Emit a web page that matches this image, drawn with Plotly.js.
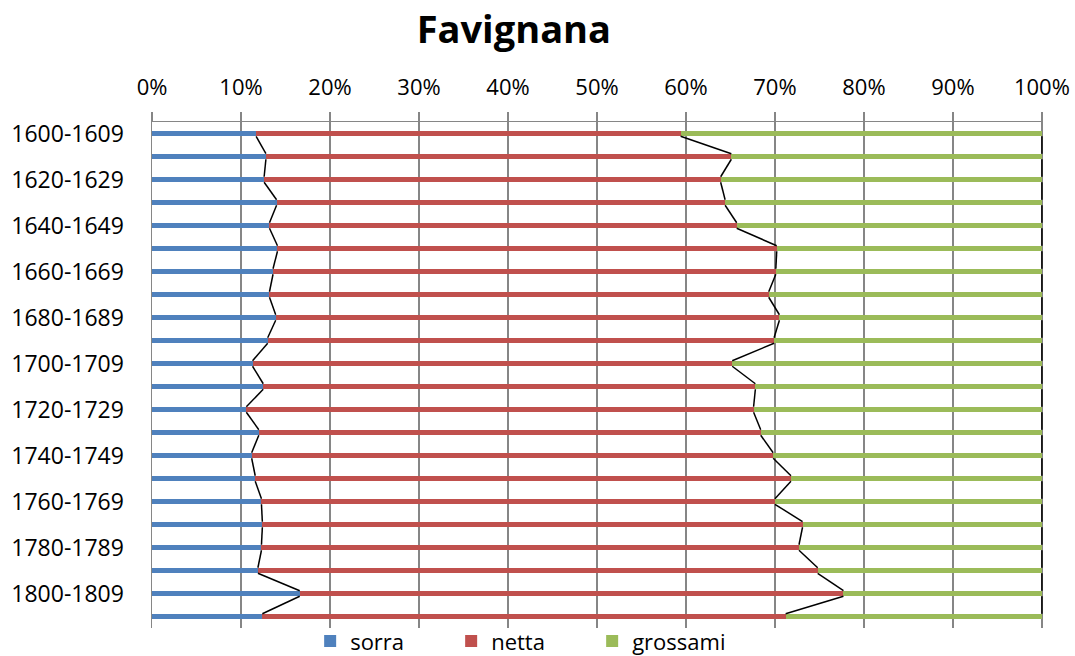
<!DOCTYPE html>
<html>
<head>
<meta charset="utf-8">
<script src="https://cdn.plot.ly/plotly-3.0.1.min.js"></script>
<style>html,body{margin:0;padding:0;background:#fff;}#chart{width:1075px;height:656px;}</style>
</head>
<body>
<div id="chart"></div>
<script>
var categories = ["1600-1609","1610-1619","1620-1629","1630-1639","1640-1649","1650-1659",
  "1660-1669","1670-1679","1680-1689","1690-1699","1700-1709","1710-1719","1720-1729",
  "1730-1739","1740-1749","1750-1759","1760-1769","1770-1779","1780-1789","1790-1799",
  "1800-1809","1810-1819"];
var sorra    = [11.7,12.8,12.6,14.0,13.2,14.1,13.6,13.2,13.9,13.0,11.3,12.5,10.6,12.0,11.2,11.6,12.3,12.4,12.3,11.9,16.6,12.4];
var netta    = [47.7,52.3,51.3,50.4,52.5,56.1,56.5,56.1,56.6,56.9,53.9,55.3,57.0,56.4,58.6,60.2,57.7,60.7,60.4,62.9,61.1,58.8];
var grossami = [40.6,34.9,36.1,35.6,34.3,29.8,29.9,30.7,29.5,30.1,34.8,32.2,32.4,31.6,30.2,28.2,30.0,26.9,27.3,25.2,22.3,28.8];
var seriesNames = ["sorra","netta","grossami"];
var seriesColors = ["#4F81BD","#C0504D","#9BBB59"];
var xTickVals = [0,10,20,30,40,50,60,70,80,90,100];
var xTickText = ["0%","10%","20%","30%","40%","50%","60%","70%","80%","90%","100%"];

var idx = categories.map(function(c,i){return i;});
var series = [sorra, netta, grossami];
var FONT = "Open Sans, DejaVu Sans, sans-serif";
var barWidth = 0.24;

var traces = [];
series.forEach(function(vals, s){
  traces.push({
    type: "bar", orientation: "h", name: seriesNames[s],
    x: vals, y: idx, width: barWidth,
    marker: {color: seriesColors[s], line: {width: 0}},
    hoverinfo: "x+name"
  });
});

// series lines connecting segment ends of adjacent bars
var cum = [];
var run = idx.map(function(){return 0;});
series.forEach(function(vals){
  run = run.map(function(r,i){return r + vals[i];});
  cum.push(run.slice());
});
cum.forEach(function(c){
  var lx = [], ly = [];
  for (var i = 0; i < idx.length - 1; i++) {
    lx.push(c[i], c[i+1], null);
    ly.push(idx[i] + barWidth/2, idx[i+1] - barWidth/2, null);
  }
  traces.push({
    type: "scatter", mode: "lines", x: lx, y: ly,
    line: {color: "#000000", width: 1.5},
    showlegend: false, hoverinfo: "skip", connectgaps: false
  });
});

var evenIdx = idx.filter(function(i){return i % 2 === 0;});
var layout = {
  width: 1075, height: 656,
  paper_bgcolor: "#ffffff", plot_bgcolor: "#ffffff",
  barmode: "stack",
  margin: {l: 152, r: 32, t: 122, b: 28, autoexpand: false},
  font: {family: FONT, size: 22, color: "#000000"},
  title: {text: "<b>Favignana</b>", font: {family: FONT, size: 38, color: "#000000"},
          x: 0.478, xref: "container", xanchor: "center", y: 0.955, yref: "container", yanchor: "middle"},
  xaxis: {
    side: "top", range: [0, 100.12], tickvals: xTickVals, ticktext: xTickText,
    showgrid: true, gridcolor: "#868686", gridwidth: 1.5,
    showline: true, linecolor: "#868686", linewidth: 1.5,
    ticks: "outside", ticklen: 9, tickcolor: "#868686", tickwidth: 1.5,
    ticklabelstandoff: 8,
    zeroline: false, tickfont: {family: FONT, size: 22, color: "#000000"},
    fixedrange: true
  },
  yaxis: {
    range: [idx.length - 0.5, -0.5],
    tickvals: evenIdx, ticktext: evenIdx.map(function(i){return categories[i];}),
    showgrid: false, zeroline: false,
    showline: true, linecolor: "#868686", linewidth: 1.5,
    ticks: "", ticklabelstandoff: 22,
    tickfont: {family: FONT, size: 23, color: "#000000"},
    fixedrange: true
  },
  legend: {
    orientation: "h", x: 0.1775, xanchor: "left", y: -0.026, yanchor: "middle",
    bgcolor: "rgba(0,0,0,0)", font: {family: FONT, size: 22, color: "#000000"},
    entrywidth: 96, entrywidthmode: "pixels", traceorder: "normal"
  },
  showlegend: true
};
Plotly.newPlot("chart", traces, layout, {displayModeBar: false, staticPlot: true});
</script>
</body>
</html>
